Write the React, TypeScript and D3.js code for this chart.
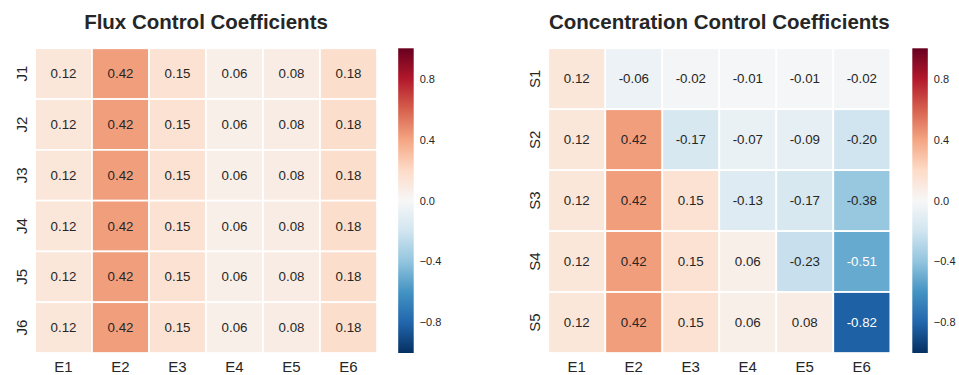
import React from "react";
import * as d3 from "d3";

// Column labels (enzymes) shared by both heatmaps
const enzymes = ["E1", "E2", "E3", "E4", "E5", "E6"];

// Flux control coefficients: rows are fluxes J1..J6
const fluxRows = ["J1", "J2", "J3", "J4", "J5", "J6"];
const fluxValues = [
  [0.12, 0.42, 0.15, 0.06, 0.08, 0.18],
  [0.12, 0.42, 0.15, 0.06, 0.08, 0.18],
  [0.12, 0.42, 0.15, 0.06, 0.08, 0.18],
  [0.12, 0.42, 0.15, 0.06, 0.08, 0.18],
  [0.12, 0.42, 0.15, 0.06, 0.08, 0.18],
  [0.12, 0.42, 0.15, 0.06, 0.08, 0.18],
];

// Concentration control coefficients: rows are species S1..S5
const concRows = ["S1", "S2", "S3", "S4", "S5"];
const concValues = [
  [0.12, -0.06, -0.02, -0.01, -0.01, -0.02],
  [0.12, 0.42, -0.17, -0.07, -0.09, -0.2],
  [0.12, 0.42, 0.15, -0.13, -0.17, -0.38],
  [0.12, 0.42, 0.15, 0.06, -0.23, -0.51],
  [0.12, 0.42, 0.15, 0.06, 0.08, -0.82],
];

const colorbarTicks = [0.8, 0.4, 0.0, -0.4, -0.8];

// RdBu_r: ColorBrewer 11-class diverging, linearly interpolated
const rdbu = [
  "#053061", "#2166ac", "#4393c3", "#92c5de", "#d1e5f0", "#f7f7f7",
  "#fddbc7", "#f4a582", "#d6604d", "#b2182b", "#67001f",
];
const VMIN = -1;
const VMAX = 1;
const color = d3
  .scaleLinear<string>()
  .domain(d3.range(rdbu.length).map((i) => VMIN + (i * (VMAX - VMIN)) / (rdbu.length - 1)))
  .range(rdbu)
  .interpolate(d3.interpolateRgb)
  .clamp(true);

const FONT = "'Liberation Sans', Arial, sans-serif";
const DARK = "#262626";

function luminance(c: string) {
  const rgb = d3.rgb(c);
  const ch = [rgb.r, rgb.g, rgb.b].map((v) => {
    const s = v / 255;
    return s <= 0.03928 ? s / 12.92 : Math.pow((s + 0.055) / 1.055, 2.4);
  });
  return 0.2126 * ch[0] + 0.7152 * ch[1] + 0.0722 * ch[2];
}

const fmtTick = (v: number) => d3.format(".1f")(v).replace("-", "\u2212");

type PanelProps = {
  title: string;
  rows: string[];
  values: number[][];
  x0: number;
  x1: number;
  cbX: number;
};

const Y0 = 48.3;
const Y1 = 353;
const CB_W = 15.5;

function Panel({ title, rows, values, x0, x1, cbX }: PanelProps) {
  const x = d3.scaleBand<string>().domain(enzymes).range([x0, x1]);
  const y = d3.scaleBand<string>().domain(rows).range([Y0, Y1]);
  const cb = d3.scaleLinear().domain([VMIN, VMAX]).range([Y1, Y0]);
  const gradId = `grad-${rows[0]}`;
  const stops = d3.range(rdbu.length).map((i) => i / (rdbu.length - 1));

  return (
    <g>
      <text
        x={(x0 + x1) / 2}
        y={29}
        textAnchor="middle"
        fontFamily={FONT}
        fontWeight="bold"
        fontSize={20.5}
        fill={DARK}
      >
        {title}
      </text>

      {values.map((row, i) =>
        row.map((v, j) => {
          const fill = color(v);
          const tc = luminance(fill) > 0.408 ? DARK : "#ffffff";
          const cx = x(enzymes[j])!;
          const cy = y(rows[i])!;
          return (
            <g key={`${i}-${j}`}>
              <rect
                x={cx}
                y={cy}
                width={x.bandwidth()}
                height={y.bandwidth()}
                fill={fill}
                stroke="#ffffff"
                strokeWidth={1.7}
              />
              <text
                x={cx + x.bandwidth() / 2}
                y={cy + y.bandwidth() / 2}
                dy="0.35em"
                textAnchor="middle"
                fontFamily={FONT}
                fontSize={13.3}
                fill={tc}
              >
                {v.toFixed(2)}
              </text>
            </g>
          );
        })
      )}

      {enzymes.map((e) => (
        <text
          key={e}
          x={x(e)! + x.bandwidth() / 2}
          y={372}
          textAnchor="middle"
          fontFamily={FONT}
          fontSize={15}
          fill={DARK}
        >
          {e}
        </text>
      ))}

      {rows.map((r) => {
        const cy = y(r)! + y.bandwidth() / 2;
        return (
          <text
            key={r}
            transform={`translate(${x0 - 8.5},${cy}) rotate(-90)`}
            textAnchor="middle"
            fontFamily={FONT}
            fontSize={15}
            fill={DARK}
          >
            {r}
          </text>
        );
      })}

      <defs>
        <linearGradient id={gradId} x1="0" y1="1" x2="0" y2="0">
          {stops.map((t, i) => (
            <stop key={i} offset={t} stopColor={rdbu[i]} />
          ))}
        </linearGradient>
      </defs>
      <rect x={cbX} y={Y0} width={CB_W} height={Y1 - Y0} fill={`url(#${gradId})`} />
      {colorbarTicks.map((t) => (
        <text
          key={t}
          x={cbX + CB_W + 6}
          y={cb(t)}
          dy="0.35em"
          fontFamily={FONT}
          fontSize={11}
          fill={DARK}
        >
          {fmtTick(t)}
        </text>
      ))}
    </g>
  );
}

export default function App() {
  return (
    <svg
      width={959}
      height={375}
      style={{ position: "absolute", left: 0, top: 0, background: "#ffffff" }}
    >
      <Panel
        title="Flux Control Coefficients"
        rows={fluxRows}
        values={fluxValues}
        x0={35}
        x1={377}
        cbX={398.2}
      />
      <Panel
        title="Concentration Control Coefficients"
        rows={concRows}
        values={concValues}
        x0={548.3}
        x1={890.3}
        cbX={912.3}
      />
    </svg>
  );
}
